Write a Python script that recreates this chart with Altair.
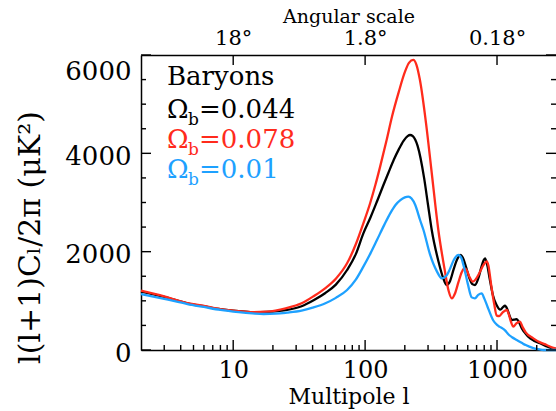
import altair as alt
import pandas as pd

# ---------------- data ----------------
ell_black = [2, 3, 4.5, 6, 8, 11, 14, 18, 25, 33, 41, 50, 60, 73, 85, 97, 110, 123, 137, 150,
             165, 180, 195, 210, 219, 230, 250, 280, 300, 320, 360, 390, 416, 440, 470, 500, 525,
             550, 580, 620, 650, 681, 720, 760, 790, 811, 840, 880, 930, 990, 1060, 1110, 1150,
             1200, 1260, 1300, 1360, 1410, 1470, 1550, 1650, 1725, 1900, 2118, 2350, 2600, 2800]
val_black = [1190, 1080, 950, 890, 830, 790, 770, 775, 810, 890, 1017, 1160, 1330, 1627, 1950,
             2373, 2700, 3020, 3340, 3600, 3870, 4080, 4250, 4350, 4373, 4350, 4150, 3500, 2950,
             2441, 1800, 1470, 1322, 1400, 1650, 1850, 1932, 1880, 1700, 1450, 1340, 1322, 1450,
             1680, 1820, 1865, 1750, 1450, 1120, 920, 820, 870, 900, 820, 660, 610, 620, 630, 560,
             430, 330, 271, 190, 136, 80, 35, 15]

ell_red = [2, 3, 4.5, 6, 8, 11, 14, 18, 25, 33, 41, 50, 60, 73, 85, 97, 109, 120, 130, 145, 160,
           180, 200, 215, 232, 245, 260, 290, 320, 359, 400, 430, 454, 480, 510, 540, 565, 590,
           620, 655, 690, 740, 790, 835, 860, 900, 950, 995, 1040, 1100, 1184, 1230, 1280, 1330,
           1400, 1494, 1560, 1650, 1884, 2100, 2376, 2600, 2800]
val_red = [1206, 1090, 955, 895, 832, 790, 770, 780, 848, 950, 1100, 1260, 1450, 1763, 2150,
           2577, 2980, 3370, 3730, 4250, 4750, 5250, 5650, 5840, 5899, 5800, 5500, 4600, 3600,
           2441, 1650, 1200, 1051, 1150, 1380, 1580, 1660, 1620, 1480, 1390, 1440, 1580, 1730,
           1800, 1720, 1350, 950, 700, 690, 760, 814, 720, 560, 475, 540, 576, 470, 360, 237,
           160, 102, 55, 30]

ell_blue = [2, 3, 4.5, 6, 8, 11, 14, 17, 21, 25.5, 33, 40, 50, 60, 73, 85, 97, 110, 123, 140,
            155, 170, 185, 200, 213, 225, 240, 261, 277, 310, 350, 381, 410, 440, 470, 509, 535,
            560, 600, 643, 680, 720, 765, 800, 850, 937, 1000, 1050, 1100, 1150, 1218, 1300, 1410,
            1550, 1650, 1884, 2100, 2240, 2500, 2800]
val_blue = [1139, 1040, 935, 875, 815, 770, 745, 732, 738, 759, 800, 860, 950, 1060, 1220, 1430,
            1695, 1970, 2237, 2550, 2780, 2950, 3050, 3105, 3119, 3080, 2950, 2644, 2441, 1950,
            1600, 1458, 1500, 1650, 1830, 1932, 1880, 1700, 1350, 1070, 1050, 1120, 1153, 1050,
            870, 600, 510, 470, 440, 400, 320, 260, 203, 140, 100, 40, 12, 0, 0, 0]

legend_title = "Baryons"
legend_values = ["=0.044", "=0.078", "=0.01"]
series_colors = ["#000000", "#ff2b1c", "#1ea1ff"]

x_major = [10, 100, 1000]
x_minor = [3, 4, 5, 6, 7, 8, 9, 20, 30, 40, 50, 60, 70, 80, 90,
           200, 300, 400, 500, 600, 700, 800, 900, 2000]
angle_labels = ["18°", "1.8°", "0.18°"]
y_major = [0, 2000, 4000, 6000]
y_minor = [500, 1000, 1500, 2500, 3000, 3500, 4500, 5000, 5500]

# ---------------- layout ----------------
W, H = 415, 295
LEFT, TOP = 141, 55
FONT = "DejaVu Serif"
MAJ, MIN = 10, 5
TICK_COLOR = "#000000"

xscale = alt.Scale(type="log", domain=[2, 2800], nice=False)
yscale = alt.Scale(domain=[0, 6000], nice=False)

def frame(ls, vs):
    return pd.DataFrame({"l": ls, "v": vs})

df_black = frame(ell_black, val_black)
df_red = frame(ell_red, val_red)
df_blue = frame(ell_blue, val_blue)

top_expr = ""
for v, lab in zip(x_major, angle_labels):
    top_expr += f"datum.value == {v} ? '{lab}' : "
top_expr += "''"

common = dict(grid=False, tickColor="black", domainColor="black", labelColor="black",
              titleColor="black", labelFont=FONT, titleFont=FONT, titleFontWeight="normal",
              domainWidth=1.5)

ax_bottom = alt.Axis(orient="bottom", values=x_major, format="d", ticks=False,
                     labelFontSize=24, labelPadding=8, domain=True,
                     title="Multipole l", titleFontSize=22, titleY=46,
                     titleBaseline="middle", **common)
ax_top = alt.Axis(orient="top", values=x_major, labelExpr=top_expr, ticks=False,
                  labelFontSize=21, labelPadding=7, domain=True,
                  title="Angular scale", titleFontSize=19, titleY=-39,
                  titleBaseline="middle", **common)
ax_left = alt.Axis(orient="left", values=y_major, format="d", ticks=False,
                   labelFontSize=26, labelPadding=10, labelOffset=3,
                   labelBaseline={"condition": {"test": "datum.value == 6000", "value": "top"},
                                  "value": "middle"},
                   domain=True, title="l(l+1)Cₗ/2π   (μK²)", titleFontSize=30,
                   titleX=30 - LEFT, titleY=237 - TOP, titleAngle=270,
                   titleAlign="center", titleBaseline="middle", **common)

def curve(df, color, xaxis=None, yaxis=None):
    return alt.Chart(df).mark_line(color=color, strokeWidth=2.3, interpolate="monotone").encode(
        x=alt.X("l:Q", scale=xscale, axis=xaxis),
        y=alt.Y("v:Q", scale=yscale, axis=yaxis),
    )

# inward tick marks: vertical / horizontal rules placed through the shared scales
def xticks(vals, y0, y1):
    d = pd.DataFrame({"tick": vals})
    return alt.Chart(d).mark_rule(stroke=TICK_COLOR, strokeWidth=1.4, opacity=1).encode(
        x=alt.X("tick:Q", scale=xscale, axis=None),
        y=alt.value(y0), y2=alt.value(y1))

def yticks(vals, x0, x1):
    d = pd.DataFrame({"tick": vals})
    return alt.Chart(d).mark_rule(stroke=TICK_COLOR, strokeWidth=1.4, opacity=1).encode(
        y=alt.Y("tick:Q", scale=yscale, axis=None),
        x=alt.value(x0), x2=alt.value(x1))

layers = [
    curve(df_black, series_colors[0], ax_bottom, ax_left),
    curve(df_red, series_colors[1], ax_top, None),
    curve(df_blue, series_colors[2], None, None),
    xticks(x_major, H, H - MAJ),
    xticks(x_minor, H, H - MIN),
    xticks(x_major, 0, MAJ),
    yticks(y_major, 0, MAJ),
    yticks(y_minor, 0, MIN),
    yticks(y_major, W, W - MAJ),
    yticks(y_minor, W, W - MIN),
]

def text_layer(txt, x, y, color, size):
    return alt.Chart(pd.DataFrame({"txt": [txt]})).mark_text(
        font=FONT, fontSize=size, color=color, align="left", baseline="alphabetic"
    ).encode(text="txt:N", x=alt.value(x), y=alt.value(y))

lx = 167 - LEFT
layers.append(text_layer(legend_title, lx, 85 - TOP, "#000000", 26))
for i, (val, col) in enumerate(zip(legend_values, series_colors)):
    base = 118 - TOP + 30 * i
    layers.append(text_layer("Ω", lx, base, col, 26))
    layers.append(text_layer("b", lx + 21, base + 7, col, 17))
    layers.append(text_layer(val, lx + 32, base, col, 26))

chart = alt.layer(*layers).resolve_axis(x="independent", y="independent").properties(
    width=W, height=H,
    autosize=alt.AutoSizeParams(type="none"),
    padding={"left": LEFT, "top": TOP, "right": 0, "bottom": 411 - TOP - H},
).configure(background="white").configure_view(strokeWidth=0)

chart.save("out.html", embed_options={"renderer": "svg", "actions": False})
